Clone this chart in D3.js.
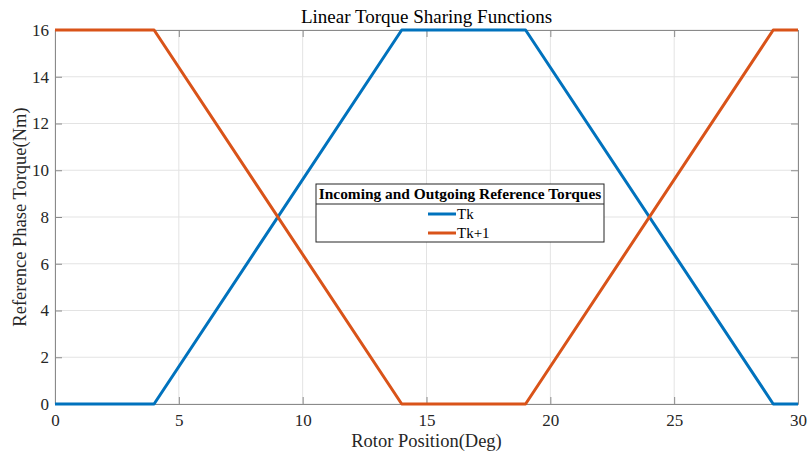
<!DOCTYPE html>
<html>
<head>
<meta charset="utf-8">
<script src="https://cdn.jsdelivr.net/npm/d3@7"></script>
<style>
  html, body { margin: 0; padding: 0; background: #fff; }
  svg { display: block; font-family: "Liberation Serif", "Times New Roman", serif; }
</style>
</head>
<body>
<svg id="chart" width="809" height="454"></svg>
<script>
// Rotor position breakpoints (deg) and phase torque references (Nm)
const position = [0, 4, 14, 19, 29, 30];
const torqueK = [0, 0, 16, 16, 0, 0];
const torqueK1 = [16, 16, 0, 0, 16, 16];
const seriesNames = ["Tk", "Tk+1"];
const seriesColors = ["#0072BD", "#D95319"];
const xTicks = [0, 5, 10, 15, 20, 25, 30];
const yTicks = [0, 2, 4, 6, 8, 10, 12, 14, 16];

const svg = d3.select("#chart");
const m = { left: 55, right: 798, top: 30, bottom: 404 };

const x = d3.scaleLinear().domain([0, 30]).range([m.left, m.right]);
const y = d3.scaleLinear().domain([0, 16]).range([m.bottom, m.top]);

// grid
const grid = svg.append("g").attr("stroke", "#e3e3e3").attr("stroke-width", 1);
xTicks.forEach(t => grid.append("line")
  .attr("x1", x(t)).attr("x2", x(t)).attr("y1", m.top).attr("y2", m.bottom));
yTicks.forEach(t => grid.append("line")
  .attr("x1", m.left).attr("x2", m.right).attr("y1", y(t)).attr("y2", y(t)));

// axes with inward ticks on all four sides
const axisColor = "#8a8a8a";
const tickLen = 7;
function styleAxis(g) {
  g.select(".domain").attr("stroke", axisColor).attr("stroke-width", 1);
  g.selectAll(".tick line").attr("stroke", axisColor);
  g.selectAll(".tick text").attr("fill", "#262626").attr("font-size", 17)
    .attr("font-family", "Liberation Serif, Times New Roman, serif");
}
svg.append("g").attr("transform", `translate(0,${m.bottom})`)
  .call(d3.axisBottom(x).tickValues(xTicks).tickSize(-tickLen).tickPadding(10).tickSizeOuter(0))
  .call(styleAxis);
svg.append("g").attr("transform", `translate(${m.left},0)`)
  .call(d3.axisLeft(y).tickValues(yTicks).tickSize(-tickLen).tickPadding(6).tickSizeOuter(0))
  .call(styleAxis);
svg.append("g").attr("transform", `translate(0,${m.top})`)
  .call(d3.axisTop(x).tickValues(xTicks).tickSize(-tickLen).tickFormat("").tickSizeOuter(0))
  .call(styleAxis);
svg.append("g").attr("transform", `translate(${m.right},0)`)
  .call(d3.axisRight(y).tickValues(yTicks).tickSize(-tickLen).tickFormat("").tickSizeOuter(0))
  .call(styleAxis);

// torque curves
const line = d3.line().x(d => x(d[0])).y(d => y(d[1]));
[torqueK, torqueK1].forEach((vals, i) => {
  svg.append("path")
    .datum(position.map((p, j) => [p, vals[j]]))
    .attr("fill", "none")
    .attr("stroke", seriesColors[i])
    .attr("stroke-width", 3)
    .attr("stroke-linejoin", "round")
    .attr("d", line);
});

// title and axis labels
svg.append("text").attr("x", (m.left + m.right) / 2).attr("y", 23)
  .attr("text-anchor", "middle").attr("font-size", 19).attr("fill", "#000")
  .text("Linear Torque Sharing Functions");
svg.append("text").attr("x", (m.left + m.right) / 2).attr("y", 447)
  .attr("text-anchor", "middle").attr("font-size", 18.5).attr("fill", "#262626")
  .text("Rotor Position(Deg)");
svg.append("text")
  .attr("transform", `translate(26,${(m.top + m.bottom) / 2}) rotate(-90)`)
  .attr("text-anchor", "middle").attr("font-size", 18.5).attr("fill", "#262626")
  .text("Reference Phase Torque(Nm)");

// legend
const lg = svg.append("g");
const lx = 316, ly = 184, lw = 288, lh = 58;
lg.append("rect").attr("x", lx).attr("y", ly).attr("width", lw).attr("height", lh)
  .attr("fill", "#fff").attr("stroke", "#262626").attr("stroke-width", 1);
lg.append("line").attr("x1", lx).attr("x2", lx + lw).attr("y1", ly + 20).attr("y2", ly + 20)
  .attr("stroke", "#262626").attr("stroke-width", 1);
lg.append("text").attr("x", lx + lw / 2).attr("y", ly + 15)
  .attr("text-anchor", "middle").attr("font-size", 15.4).attr("font-weight", "bold")
  .attr("fill", "#000").text("Incoming and Outgoing Reference Torques");
seriesNames.forEach((name, i) => {
  const yy = ly + 30 + i * 19;
  lg.append("line").attr("x1", 428).attr("x2", 456).attr("y1", yy).attr("y2", yy)
    .attr("stroke", seriesColors[i]).attr("stroke-width", 3);
  lg.append("text").attr("x", 457).attr("y", yy + 5).attr("font-size", 15)
    .attr("fill", "#000").text(name);
});
</script>
</body>
</html>
